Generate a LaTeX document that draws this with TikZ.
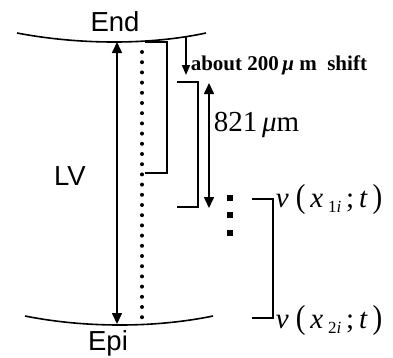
\documentclass[tikz,border=0pt]{standalone}
\usepackage{fontspec}
\setmainfont{Liberation Serif}
\newfontfamily\arialfont{Liberation Sans}
\usetikzlibrary{arrows.meta}
\begin{document}
\begin{tikzpicture}[x=1pt,y=-1pt,
  line width=1.6pt,
  tip/.style={-{Triangle[length=10pt,width=8pt]}},
  dtip/.style={{Triangle[length=11pt,width=10pt]}-{Triangle[length=11pt,width=10pt]}},
  sans/.style={font=\arialfont\fontsize{27.5}{27.5}\selectfont, inner sep=0pt, anchor=base},
  serif/.style={font=\fontsize{29}{29}\selectfont, inner sep=0pt, anchor=base west},
  brk/.style={line width=1.6pt},
  dotline/.style={line width=4pt, line cap=round, dash pattern=on 0pt off 10.2pt},
  sq/.style={fill=black, minimum size=6.5pt, inner sep=0pt, draw=none}]
\useasboundingbox (0,0) rectangle (393,357);
% surfaces
\coordinate (tL) at (17,33); \coordinate (tR) at (206,33);
\coordinate (bL) at (25,316); \coordinate (bR) at (213,316);
\draw (tL) .. controls (80,45) and (150,45) .. (tR);
\draw (bL) .. controls (85,328) and (155,328) .. (bR);
% labels
\node[sans] (end) at (115,31.5) {End};
\node[sans] (lv) at (70,185) {LV};
\node[sans] (epi) at (108,350) {Epi};
% LV arrow
\coordinate (lvT) at (117,42); \coordinate (lvB) at (117,324);
\draw[dtip] (lvB) -- (lvT);
% dotted line
\coordinate (dT) at (142,52); \coordinate (dB) at (142,318);
\draw[dotline] (dT) -- (dB);
% bracket 1
\coordinate (b1a) at (145,42); \coordinate (b1b) at (167,42);
\coordinate (b1c) at (167,173); \coordinate (b1d) at (145,173);
\draw[brk] (b1a) -- (b1b) -- (b1c) -- (b1d);
% shift arrow
\coordinate (sT) at (186,37); \coordinate (sB) at (186,75);
\draw[tip] (sT) -- (sB);
\node[font=\bfseries\fontsize{21}{21}\selectfont, inner sep=0pt, anchor=base west] (shift) at (190,70) {about 200\,\textit{μ} m\ \ shift};
% bracket 2
\coordinate (b2a) at (177,82); \coordinate (b2b) at (198,82);
\coordinate (b2c) at (198,207); \coordinate (b2d) at (177,207);
\draw[brk] (b2a) -- (b2b) -- (b2c) -- (b2d);
% 821 arrow
\coordinate (mT) at (209,83); \coordinate (mB) at (209,208);
\draw[dtip] (mB) -- (mT);
\node[serif] (um) at (213,131) {821\,\textit{μ}m};
% ellipsis squares
\node[sq] (s1) at (230,198) {};
\node[sq] (s2) at (230,215) {};
\node[sq] (s3) at (230,233) {};
% bracket 3
\coordinate (b3a) at (252,199); \coordinate (b3b) at (273,199);
\coordinate (b3c) at (273,318); \coordinate (b3d) at (252,318);
\draw[brk] (b3a) -- (b3b) -- (b3c) -- (b3d);
\node[serif] (v1) at (275,207) {\textit{v}\ \scalebox{1}[1.15]{(}\,\textit{x}\,\raisebox{-5pt}{\fontsize{17}{17}\selectfont 1\textit{i}}\,;\,\textit{t}\,\scalebox{1}[1.15]{)}};
\node[serif] (v2) at (275,328) {\textit{v}\ \scalebox{1}[1.15]{(}\,\textit{x}\,\raisebox{-5pt}{\fontsize{17}{17}\selectfont 2\textit{i}}\,;\,\textit{t}\,\scalebox{1}[1.15]{)}};
\end{tikzpicture}
\end{document}
